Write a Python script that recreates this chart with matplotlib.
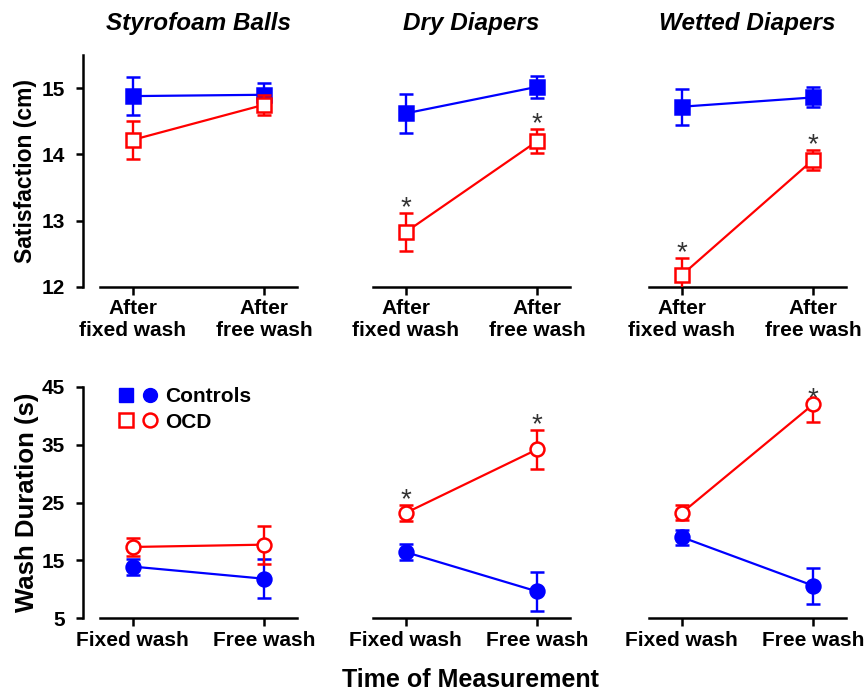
import matplotlib
matplotlib.use('Agg')
import matplotlib.pyplot as plt
from matplotlib.legend_handler import HandlerTuple
from matplotlib.lines import Line2D

plt.rcParams['font.family'] = ['Liberation Sans', 'DejaVu Sans']
plt.rcParams['font.weight'] = 'bold'

panels = ['Styrofoam Balls', 'Dry Diapers', 'Wetted Diapers']
sat_labels = ['After\nfixed wash', 'After\nfree wash']
dur_labels = ['Fixed wash', 'Free wash']

ctrl_sat = [[14.88, 14.90], [14.62, 15.02], [14.72, 14.86]]
ctrl_sat_err = [[0.29, 0.18], [0.29, 0.17], [0.27, 0.15]]
ocd_sat = [[14.22, 14.75], [12.83, 14.20], [12.18, 13.92]]
ocd_sat_err = [[0.29, 0.15], [0.29, 0.18], [0.25, 0.15]]
sat_sig = [[False, False], [True, True], [True, True]]

ctrl_dur = [[13.9, 11.8], [16.4, 9.6], [19.0, 10.6]]
ctrl_dur_err = [[1.4, 3.4], [1.35, 3.35], [1.3, 3.1]]
ocd_dur = [[17.3, 17.7], [23.2, 34.2], [23.2, 42.0]]
ocd_dur_err_lo = [[1.5, 3.3], [1.4, 3.35], [1.3, 3.1]]
ocd_dur_err_hi = [[1.5, 3.3], [1.4, 3.35], [1.3, 0.0]]
dur_sig = [[False, False], [True, True], [False, True]]

BLUE = '#0000ff'
RED = '#ff0000'
W, H = 864, 693
fig = plt.figure(figsize=(W / 100, H / 100), dpi=100)

lefts = [100, 373, 649]
aw = 197


def style(ax, first, ylim, yticks, xlabels):
    ax.set_xlim(-0.25, 1.25)
    ax.set_ylim(*ylim)
    for s in ['top', 'right']:
        ax.spines[s].set_visible(False)
    ax.spines['bottom'].set_linewidth(1.8)
    ax.spines['left'].set_linewidth(1.8)
    ax.spines['left'].set_position(('outward', 12.2))
    ax.set_xticks([0, 1])
    ax.set_xticklabels(xlabels, fontsize=15, fontweight='bold')
    ax.tick_params(axis='x', length=6, width=1.8, pad=3)
    if first:
        ax.set_yticks(yticks)
        ax.set_yticklabels([str(t) for t in yticks], fontsize=15, fontweight='bold')
        ax.tick_params(axis='y', length=5, width=1.8, pad=8)
    else:
        ax.spines['left'].set_visible(False)
        ax.set_yticks([])
    ax.patch.set_alpha(0)


def plot_group(ax, y, lo, hi, color, marker, filled, z):
    ax.errorbar([0, 1], y, yerr=[lo, hi], color=color, lw=1.6, elinewidth=1.7,
                capsize=5, capthick=1.7, marker=marker, ms=10,
                mfc=color if filled else 'white', mec=color, mew=1.8, zorder=z)


def stars(ax, y, hi, sig):
    for i in range(2):
        if sig[i]:
            ax.annotate('*', (i, y[i] + hi[i]), xytext=(0, -1.5), textcoords='offset points',
                        ha='center', va='baseline', fontsize=20, color='#333333',
                        fontweight='normal')


for k in range(3):
    ax = fig.add_axes([lefts[k] / W, 1 - 287 / H, aw / W, (287 - 55) / H])
    style(ax, k == 0, (12, 15.5), [12, 13, 14, 15], sat_labels)
    plot_group(ax, ctrl_sat[k], ctrl_sat_err[k], ctrl_sat_err[k], BLUE, 's', True, 3)
    plot_group(ax, ocd_sat[k], ocd_sat_err[k], ocd_sat_err[k], RED, 's', False, 4)
    stars(ax, ocd_sat[k], ocd_sat_err[k], sat_sig[k])
    ax.set_title(panels[k], fontsize=17.5, fontweight='bold', style='italic', pad=18)
    if k == 0:
        ax.set_ylabel('Satisfaction (cm)', fontsize=16.5, fontweight='bold', labelpad=3)

    bx = fig.add_axes([lefts[k] / W, 1 - 618 / H, aw / W, (618 - 387) / H])
    style(bx, k == 0, (5, 45), [5, 15, 25, 35, 45], dur_labels)
    plot_group(bx, ctrl_dur[k], ctrl_dur_err[k], ctrl_dur_err[k], BLUE, 'o', True, 3)
    plot_group(bx, ocd_dur[k], ocd_dur_err_lo[k], ocd_dur_err_hi[k], RED, 'o', False, 4)
    stars(bx, ocd_dur[k], ocd_dur_err_hi[k], dur_sig[k])
    if k == 0:
        bx.set_ylabel('Wash Duration (s)', fontsize=18.5, fontweight='bold', labelpad=2)
        h_ctrl = (Line2D([], [], marker='s', color=BLUE, ls='none', ms=10),
                  Line2D([], [], marker='o', color=BLUE, ls='none', ms=10))
        h_ocd = (Line2D([], [], marker='s', color=RED, mfc='white', mew=1.8, ls='none', ms=10),
                 Line2D([], [], marker='o', color=RED, mfc='white', mew=1.8, ls='none', ms=10))
        bx.legend([h_ctrl, h_ocd], ['Controls', 'OCD'],
                  handler_map={tuple: HandlerTuple(ndivide=None, pad=0.3)},
                  loc='upper left', bbox_to_anchor=(-0.01, 1.08), frameon=False,
                  prop={'size': 15, 'weight': 'bold'}, handlelength=2.0,
                  handletextpad=0.3, labelspacing=0.3)

fig.text(470 / W, 1 - 680 / H, 'Time of Measurement', ha='center', va='center',
         fontsize=18, fontweight='bold')

fig.savefig('out.png', dpi=100)
